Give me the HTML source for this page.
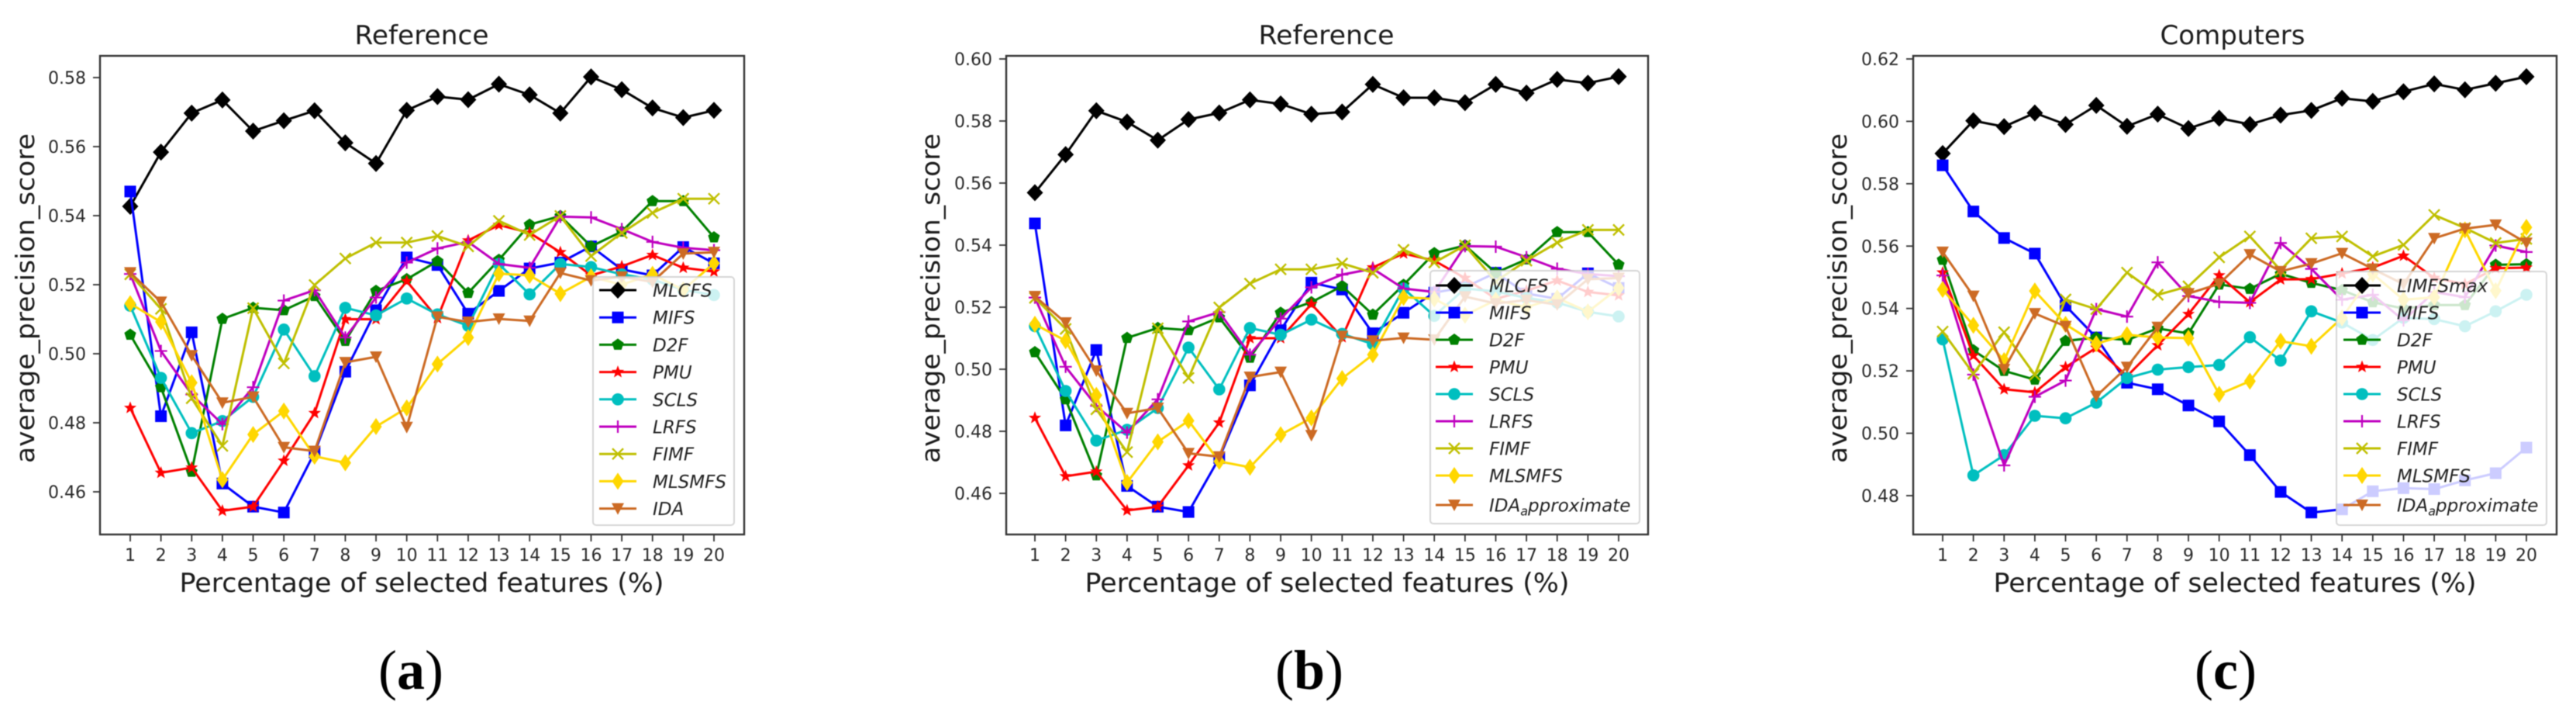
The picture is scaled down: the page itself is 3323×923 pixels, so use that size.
<!DOCTYPE html>
<html lang="en">
<head>
<meta charset="utf-8">
<title>Average precision score panels</title>
<style>
  html, body { margin: 0; padding: 0; background: #ffffff; }
  body { width: 3323px; height: 923px; overflow: hidden; }
  #figure { display: block; filter: blur(0.6px); }
  text { font-family: "DejaVu Sans", "Liberation Sans", sans-serif; fill: #1c1c1c; }
  .panel-title, .axis-title { font-size: 34px; }
  .y-title { font-size: 33px; }
  .tick-text { font-size: 22px; fill: #2a2a2a; }
  .legend-text { font-size: 23px; font-style: italic; fill: #222; }
  .caption { font-family: "Liberation Serif", serif; font-size: 72px; fill: #000; }
  .caption .bold { font-weight: bold; }
</style>
</head>
<body>
<svg id="figure" xmlns="http://www.w3.org/2000/svg" width="3323" height="923" viewBox="0 0 3323 923">
  <rect width="3323" height="923" fill="#ffffff"/>
  <g id="panel-a">
    <text class="panel-title" x="544" y="57" text-anchor="middle" textLength="173" lengthAdjust="spacingAndGlyphs">Reference</text>
    <text class="axis-title" x="544" y="763" text-anchor="middle" textLength="625" lengthAdjust="spacingAndGlyphs">Percentage of selected features (%)</text>
    <text class="y-title" transform="translate(44 384.5) rotate(-90)" text-anchor="middle" textLength="425" lengthAdjust="spacingAndGlyphs">average_precision_score</text>
  </g>
  <g id="panel-b">
    <text class="panel-title" x="1711" y="57" text-anchor="middle" textLength="175" lengthAdjust="spacingAndGlyphs">Reference</text>
    <text class="axis-title" x="1712" y="763" text-anchor="middle" textLength="625" lengthAdjust="spacingAndGlyphs">Percentage of selected features (%)</text>
    <text class="y-title" transform="translate(1212 384.5) rotate(-90)" text-anchor="middle" textLength="425" lengthAdjust="spacingAndGlyphs">average_precision_score</text>
  </g>
  <g id="panel-c">
    <text class="panel-title" x="2880" y="57" text-anchor="middle" textLength="187" lengthAdjust="spacingAndGlyphs">Computers</text>
    <text class="axis-title" x="2883" y="763" text-anchor="middle" textLength="623" lengthAdjust="spacingAndGlyphs">Percentage of selected features (%)</text>
    <text class="y-title" transform="translate(2382 384.5) rotate(-90)" text-anchor="middle" textLength="425" lengthAdjust="spacingAndGlyphs">average_precision_score</text>
  </g>
  <text class="caption" x="530" y="888" text-anchor="middle">(<tspan class="bold">a</tspan>)</text>
  <text class="caption" x="1689" y="888" text-anchor="middle">(<tspan class="bold">b</tspan>)</text>
  <text class="caption" x="2871" y="888" text-anchor="middle">(<tspan class="bold">c</tspan>)</text>
</svg>
<script>
// ---- categories and tick labels ----
const percentages = [1, 2, 3, 4, 5, 6, 7, 8, 9, 10, 11, 12, 13, 14, 15, 16, 17, 18, 19, 20];
const yTicksA = ['0.46', '0.48', '0.50', '0.52', '0.54', '0.56', '0.58'];
const yTicksB = ['0.46', '0.48', '0.50', '0.52', '0.54', '0.56', '0.58', '0.60'];
const yTicksC = ['0.48', '0.50', '0.52', '0.54', '0.56', '0.58', '0.60', '0.62'];

// ---- Reference dataset values (panels a and b) ----
const mlcfsA = [0.5427, 0.5584, 0.5697, 0.5735, 0.5645, 0.5675, 0.5704, 0.5611, 0.5551, 0.5705, 0.5745, 0.5736, 0.5781, 0.5750, 0.5697, 0.5802, 0.5765, 0.5712, 0.5684, 0.5705];
const mlcfsB = [0.5569, 0.5692, 0.5833, 0.5797, 0.5738, 0.5805, 0.5826, 0.5868, 0.5855, 0.5822, 0.5829, 0.5918, 0.5875, 0.5875, 0.5859, 0.5918, 0.5890, 0.5934, 0.5922, 0.5943];
const refMifs = [0.5470, 0.4819, 0.5062, 0.4624, 0.4557, 0.4540, 0.4714, 0.4948, 0.5126, 0.5279, 0.5257, 0.5116, 0.5182, 0.5247, 0.5264, 0.5311, 0.5244, 0.5227, 0.5309, 0.5262];
const refD2f = [0.5055, 0.4903, 0.4658, 0.5101, 0.5133, 0.5126, 0.5167, 0.5037, 0.5182, 0.5216, 0.5268, 0.5176, 0.5272, 0.5374, 0.5399, 0.5311, 0.5354, 0.5442, 0.5442, 0.5337];
const refPmu = [0.4843, 0.4655, 0.4670, 0.4545, 0.4557, 0.4690, 0.4828, 0.5100, 0.5100, 0.5210, 0.5103, 0.5328, 0.5373, 0.5350, 0.5294, 0.5227, 0.5253, 0.5286, 0.5249, 0.5238];
const refScls = [0.5139, 0.4930, 0.4770, 0.4805, 0.4875, 0.5070, 0.4935, 0.5133, 0.5111, 0.5160, 0.5114, 0.5081, 0.5260, 0.5172, 0.5260, 0.5251, 0.5230, 0.5215, 0.5185, 0.5170];
const refLrfs = [0.5231, 0.5008, 0.4882, 0.4796, 0.4903, 0.5154, 0.5184, 0.5047, 0.5163, 0.5264, 0.5305, 0.5324, 0.5260, 0.5249, 0.5397, 0.5395, 0.5361, 0.5324, 0.5307, 0.5300];
const refFimf = [0.5230, 0.5130, 0.4871, 0.4733, 0.5132, 0.4972, 0.5199, 0.5276, 0.5322, 0.5322, 0.5341, 0.5311, 0.5385, 0.5344, 0.5399, 0.5283, 0.5350, 0.5408, 0.5449, 0.5449];
const refMlsmfs = [0.5145, 0.5092, 0.4916, 0.4635, 0.4766, 0.4834, 0.4703, 0.4684, 0.4789, 0.4843, 0.4970, 0.5047, 0.5232, 0.5227, 0.5174, 0.5223, 0.5200, 0.5230, 0.5185, 0.5262];
const refIda = [0.5235, 0.5150, 0.4995, 0.4858, 0.4875, 0.4729, 0.4718, 0.4975, 0.4991, 0.4787, 0.5107, 0.5092, 0.5101, 0.5095, 0.5234, 0.5212, 0.5223, 0.5208, 0.5290, 0.5294];

// ---- Computers dataset values (panel c) ----
const compLimfs = [0.5897, 0.6002, 0.5983, 0.6027, 0.5990, 0.6051, 0.5984, 0.6023, 0.5977, 0.6010, 0.5990, 0.6020, 0.6035, 0.6074, 0.6064, 0.6095, 0.6120, 0.6101, 0.6122, 0.6143];
const compMifs = [0.5859, 0.5711, 0.5626, 0.5576, 0.5409, 0.5307, 0.5162, 0.5141, 0.5089, 0.5038, 0.4930, 0.4812, 0.4746, 0.4756, 0.4814, 0.4824, 0.4821, 0.4849, 0.4872, 0.4954];
const compD2f = [0.5556, 0.5266, 0.5200, 0.5172, 0.5296, 0.5307, 0.5299, 0.5336, 0.5320, 0.5477, 0.5463, 0.5511, 0.5482, 0.5459, 0.5420, 0.5400, 0.5411, 0.5411, 0.5540, 0.5542];
const compPmu = [0.5515, 0.5249, 0.5141, 0.5131, 0.5212, 0.5274, 0.5183, 0.5282, 0.5382, 0.5506, 0.5420, 0.5493, 0.5494, 0.5512, 0.5531, 0.5569, 0.5498, 0.5478, 0.5529, 0.5531];
const compScls = [0.5301, 0.4865, 0.4930, 0.5056, 0.5048, 0.5098, 0.5177, 0.5204, 0.5212, 0.5219, 0.5308, 0.5233, 0.5391, 0.5355, 0.5299, 0.5370, 0.5366, 0.5343, 0.5391, 0.5444];
const compLrfs = [0.5506, 0.5188, 0.4897, 0.5117, 0.5169, 0.5398, 0.5374, 0.5548, 0.5440, 0.5421, 0.5418, 0.5610, 0.5527, 0.5428, 0.5444, 0.5362, 0.5453, 0.5436, 0.5602, 0.5581];
const compFimf = [0.5326, 0.5191, 0.5324, 0.5187, 0.5429, 0.5398, 0.5515, 0.5444, 0.5471, 0.5564, 0.5631, 0.5523, 0.5625, 0.5631, 0.5567, 0.5604, 0.5700, 0.5658, 0.5610, 0.5623];
const compMlsmfs = [0.5461, 0.5346, 0.5233, 0.5456, 0.5349, 0.5287, 0.5316, 0.5307, 0.5305, 0.5125, 0.5167, 0.5295, 0.5279, 0.5370, 0.5511, 0.5428, 0.5436, 0.5652, 0.5457, 0.5660];
const compIda = [0.5581, 0.5440, 0.5205, 0.5384, 0.5343, 0.5119, 0.5212, 0.5340, 0.5448, 0.5479, 0.5573, 0.5519, 0.5544, 0.5577, 0.5527, 0.5478, 0.5625, 0.5656, 0.5668, 0.5610];

// ---- legend labels ----
const legendLabelsA = ['MLCFS', 'MIFS', 'D2F', 'PMU', 'SCLS', 'LRFS', 'FIMF', 'MLSMFS', 'IDA'];
const legendLabelsB = ['MLCFS', 'MIFS', 'D2F', 'PMU', 'SCLS', 'LRFS', 'FIMF', 'MLSMFS', 'IDA_approximate'];
const legendLabelsC = ['LIMFSmax', 'MIFS', 'D2F', 'PMU', 'SCLS', 'LRFS', 'FIMF', 'MLSMFS', 'IDA_approximate'];

// ---- series styles, same order for every panel ----
const seriesColors = ['#000000', '#0000ff', '#008000', '#ff0000', '#00bfbf', '#bf00bf', '#bfbf00', '#ffd700', '#cc6a24'];
const seriesMarkers = ['diamond', 'square', 'pentagon', 'star', 'circle', 'plus', 'cross', 'thin', 'triangle'];

const SVG_NS = 'http://www.w3.org/2000/svg';

function make(tag, parent, attrs) {
  const el = document.createElementNS(SVG_NS, tag);
  for (const k in attrs) el.setAttribute(k, attrs[k]);
  parent.appendChild(el);
  return el;
}

function polyPoints(cx, cy, r, n, startDeg, inner) {
  const pts = [];
  const count = inner ? n * 2 : n;
  for (let i = 0; i < count; i++) {
    const a = (startDeg + i * 360 / count) * Math.PI / 180;
    const rad = inner && i % 2 ? inner : r;
    pts.push((cx + rad * Math.cos(a)).toFixed(2) + ',' + (cy + rad * Math.sin(a)).toFixed(2));
  }
  return pts.join(' ');
}

function drawMarker(parent, kind, cx, cy, color) {
  if (kind === 'diamond') return make('polygon', parent, { points: `${cx - 10.5},${cy} ${cx},${cy - 11} ${cx + 10.5},${cy} ${cx},${cy + 11}`, fill: color });
  if (kind === 'thin') return make('polygon', parent, { points: `${cx - 7.5},${cy} ${cx},${cy - 11} ${cx + 7.5},${cy} ${cx},${cy + 11}`, fill: color });
  if (kind === 'square') return make('rect', parent, { x: cx - 7.5, y: cy - 7.5, width: 15, height: 15, fill: color });
  if (kind === 'circle') return make('circle', parent, { cx: cx, cy: cy, r: 7.8, fill: color });
  if (kind === 'pentagon') return make('polygon', parent, { points: polyPoints(cx, cy, 8, 5, -90), fill: color });
  if (kind === 'star') return make('polygon', parent, { points: polyPoints(cx, cy, 8.5, 5, -90, 3.6), fill: color });
  if (kind === 'triangle') return make('polygon', parent, { points: `${cx - 8},${cy - 7} ${cx + 8},${cy - 7} ${cx},${cy + 8}`, fill: color });
  if (kind === 'plus') return make('path', parent, { d: `M${cx - 8} ${cy}H${cx + 8}M${cx} ${cy - 8}V${cy + 8}`, stroke: color, 'stroke-width': 2.2, fill: 'none' });
  return make('path', parent, { d: `M${cx - 7} ${cy - 7}L${cx + 7} ${cy + 7}M${cx + 7} ${cy - 7}L${cx - 7} ${cy + 7}`, stroke: color, 'stroke-width': 2.4, fill: 'none' });
}

function drawPanel(cfg) {
  const root = document.getElementById(cfg.id);
  const xAxis = k => cfg.firstX + (k - 1) * (cfg.lastX - cfg.firstX) / 19;
  const yAxis = v => cfg.refTickY + (cfg.refTick - v) * cfg.pxPerUnit;

  // series
  cfg.series.forEach((values, i) => {
    const group = make('g', root, {});
    
    
    const pts = values.map((v, j) => xAxis(percentages[j]).toFixed(1) + ',' + yAxis(v).toFixed(1)).join(' ');
    const line = make('polyline', group, { points: pts, fill: 'none', stroke: seriesColors[i], 'stroke-width': 3, 'stroke-linejoin': 'round' });
    
    
    values.forEach((v, j) => {
      const mark = drawMarker(group, seriesMarkers[i], xAxis(percentages[j]), yAxis(v), seriesColors[i]);
      
      
    });
  });

  // frame
  const frame = make('rect', root, { x: cfg.left, y: cfg.top, width: cfg.right - cfg.left, height: cfg.bottom - cfg.top, fill: 'none', stroke: '#333333', 'stroke-width': 2.4 });
  
  

  // x ticks
  percentages.forEach(k => {
    const tick = make('line', root, { x1: xAxis(k), x2: xAxis(k), y1: cfg.bottom, y2: cfg.bottom + 9, stroke: '#333333', 'stroke-width': 1.8 });
    
    
    const label = make('text', root, { class: 'tick-text', x: xAxis(k), y: 723, 'text-anchor': 'middle' });
    
    
    label.textContent = k;
  });

  // y ticks
  cfg.yTicks.forEach(t => {
    const y = yAxis(parseFloat(t));
    const tick = make('line', root, { x1: cfg.left - 9, x2: cfg.left, y1: y, y2: y, stroke: '#333333', 'stroke-width': 1.8 });
    
    
    const label = make('text', root, { class: 'tick-text', x: cfg.left - 18, y: y + 8, 'text-anchor': 'end' });
    
    
    label.textContent = t;
  });

  // legend
  const legendGroup = make('g', root, {});
  
  
  const box = make('rect', legendGroup, { x: cfg.lgX, y: cfg.lgY, width: cfg.lgW, height: cfg.lgH, rx: 4, fill: '#ffffff', 'fill-opacity': 0.8, stroke: '#cccccc', 'stroke-opacity': 0.8, 'stroke-width': 2 });
  
  
  cfg.legend.forEach((name, i) => {
    const y = cfg.lgRow + i * cfg.lgGap + (name.indexOf('_') > 0 ? 3 : 0);
    const entry = make('g', legendGroup, {});
    
    
    make('line', entry, { x1: cfg.lgLine, x2: cfg.lgLine + 48, y1: y, y2: y, stroke: seriesColors[i], 'stroke-width': 3 });
    drawMarker(entry, seriesMarkers[i], cfg.lgLine + 24, y, seriesColors[i]);
    const text = make('text', entry, { class: 'legend-text', x: cfg.lgText, y: y + 8.5 });
    const parts = name.split('_');
    if (parts.length === 2) {
      text.appendChild(document.createTextNode(parts[0]));
      const sub = make('tspan', text, { dy: 5, 'font-size': 16 });
      sub.textContent = parts[1].charAt(0);
      const rest = make('tspan', text, { dy: -5 });
      rest.textContent = parts[1].slice(1);
    } else {
      text.textContent = name;
    }
  });
}

drawPanel({
  id: 'panel-a', prefix: 'panel-a', left: 129, right: 960, top: 72, bottom: 689,
  firstX: 168, lastX: 921, refTick: 0.58, refTickY: 100, pxPerUnit: 4450, yTicks: yTicksA,
  series: [mlcfsA, refMifs, refD2f, refPmu, refScls, refLrfs, refFimf, refMlsmfs, refIda],
  legend: legendLabelsA,
  lgX: 765, lgY: 357, lgW: 182, lgH: 320, lgRow: 374, lgGap: 35.2, lgLine: 773, lgText: 842
});

drawPanel({
  id: 'panel-b', prefix: 'panel-b', left: 1298, right: 2126, top: 72, bottom: 689,
  firstX: 1335, lastX: 2088, refTick: 0.60, refTickY: 76, pxPerUnit: 4000, yTicks: yTicksB,
  series: [mlcfsB, refMifs, refD2f, refPmu, refScls, refLrfs, refFimf, refMlsmfs, refIda],
  legend: legendLabelsB,
  lgX: 1845, lgY: 349, lgW: 270, lgH: 326, lgRow: 368, lgGap: 35, lgLine: 1852, lgText: 1921
});

drawPanel({
  id: 'panel-c', prefix: 'panel-c', left: 2468, right: 3298, top: 72, bottom: 689,
  firstX: 2506, lastX: 3259, refTick: 0.62, refTickY: 76, pxPerUnit: 4021, yTicks: yTicksC,
  series: [compLimfs, compMifs, compD2f, compPmu, compScls, compLrfs, compFimf, compMlsmfs, compIda],
  legend: legendLabelsC,
  lgX: 3014, lgY: 350, lgW: 271, lgH: 327, lgRow: 368, lgGap: 35, lgLine: 3023, lgText: 3092
});
</script>
</body>
</html>
